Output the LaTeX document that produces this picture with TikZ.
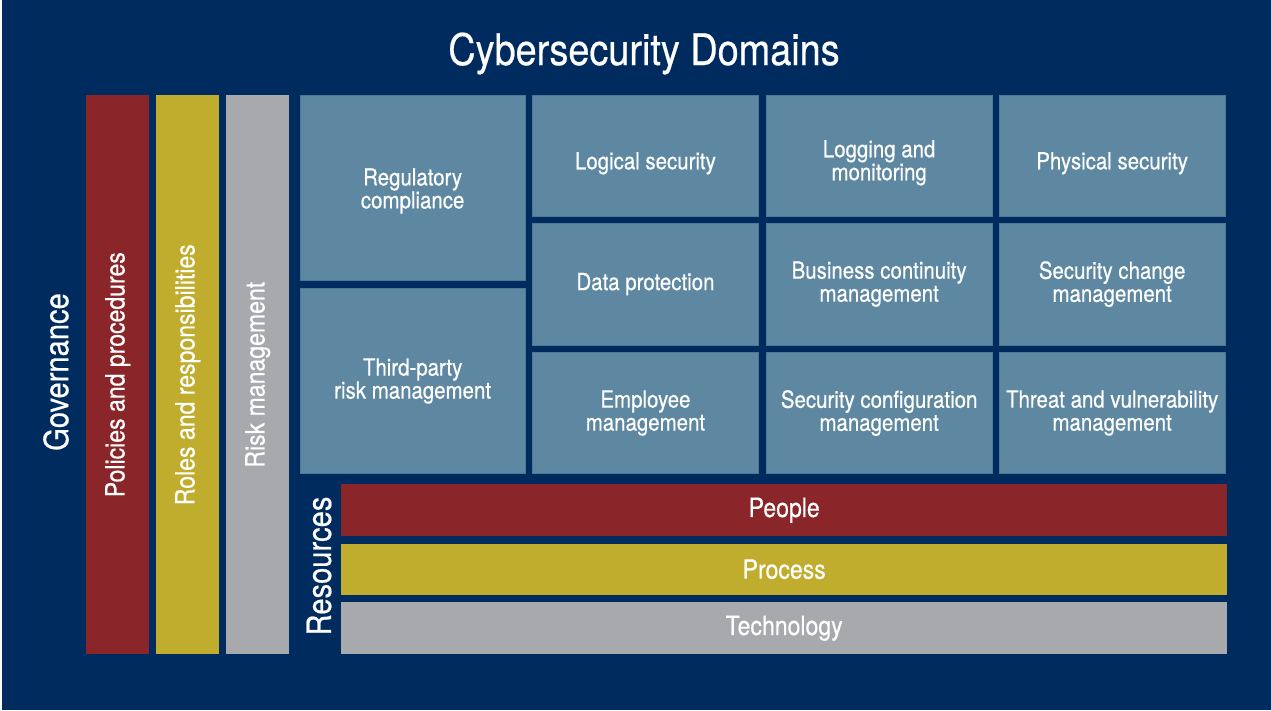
\documentclass[tikz,border=0pt]{standalone}
\usepackage{fontspec}
\setmainfont{TeX Gyre Heros}[FakeStretch=0.87,FakeBold=0.5]
\definecolor{navy}{HTML}{002B5F}
\definecolor{cred}{HTML}{8A2629}
\definecolor{cyel}{HTML}{C0AD2D}
\definecolor{cgray}{HTML}{A8A9AC}
\definecolor{cbox}{HTML}{5E88A1}
\definecolor{cboxedge}{HTML}{4F7896}
\begin{document}
\begin{tikzpicture}[x=1pt,y=-1pt,
  dbox/.style={draw=cboxedge, line width=0.8pt, fill=cbox, anchor=north west, inner sep=0pt,
    minimum width=225.5pt},
  dtext/.style={text=white, align=center, inner sep=0pt, font=\fontsize{23.5}{23}\selectfont},
  vbar/.style={fill=#1, anchor=north west, inner sep=0pt, minimum width=63pt, minimum height=559pt},
  vlabel/.style={text=white, rotate=90, font=\fontsize{26.5}{26}\selectfont},
  hbar/.style={fill=#1, anchor=north west, inner sep=0pt, minimum width=886pt, text=white,
    font=\fontsize{26.5}{26}\selectfont},
  biglabel/.style={text=white, rotate=90, font=\fontsize{33.5}{33}\selectfont}]
\useasboundingbox (0,0) rectangle (1271,710);
\fill[white] (0,0) rectangle (1271,710);
\fill[navy] (2,0) rectangle (1271,710);
\node[text=white, anchor=base, font=\fontsize{43.5}{43}\selectfont] (title) at (644,65) {Cybersecurity Domains};
% governance bars
\node[vbar=cred] (pol) at (86,95) {};
\node[vbar=cyel] (rol) at (156,95) {};
\node[vbar=cgray] (risk) at (226,95) {};
\node[vlabel] (polt) at (pol.center) {Policies and procedures};
\node[vlabel] (rolt) at (rol.center) {Roles and responsibilities};
\node[vlabel] (riskt) at (risk.center) {Risk management};
\node[biglabel] (gov) at (56,372) {Governance};
% domain boxes
\node[dbox, minimum height=185pt] (reg) at (299.5,95) {};
\node[dbox, minimum height=185.3pt] (tpr) at (299.5,288) {};
\node[dbox, minimum height=120.7pt] (logi) at (532.3,95) {};
\node[dbox, minimum height=120.7pt] (logm) at (766,95) {};
\node[dbox, minimum height=120.7pt] (phys) at (999,95) {};
\node[dbox, minimum height=122pt] (datp) at (532.3,222.7) {};
\node[dbox, minimum height=122pt] (bcm) at (766,222.7) {};
\node[dbox, minimum height=122pt] (scm) at (999,222.7) {};
\node[dbox, minimum height=121.3pt] (emp) at (532.3,352) {};
\node[dbox, minimum height=121.3pt] (scfg) at (766,352) {};
\node[dbox, minimum height=121.3pt] (tvm) at (999,352) {};
\node[dtext] (regt) at ([yshift=-3pt]reg.center) {Regulatory\\compliance};
\node[dtext] (tprt) at (tpr.center) {Third-party\\risk management};
\node[dtext] (logit) at ([yshift=-7.5pt]logi.center) {Logical security};
\node[dtext] (logmt) at ([yshift=-7pt]logm.center) {Logging and\\monitoring};
\node[dtext] (physt) at ([yshift=-7.5pt]phys.center) {Physical security};
\node[dtext] (datpt) at (datp.center) {Data protection};
\node[dtext] (bcmt) at (bcm.center) {Business continuity\\management};
\node[dtext] (scmt) at (scm.center) {Security change\\management};
\node[dtext] (empt) at (emp.center) {Employee\\management};
\node[dtext] (scfgt) at (scfg.center) {Security configuration\\management};
\node[dtext] (tvmt) at (tvm.center) {Threat and vulnerability\\management};
% resources
\node[hbar=cred, minimum height=52pt] (people) at (341,484) {People};
\node[hbar=cyel, minimum height=51.4pt] (proc) at (341,543.3) {Process};
\node[hbar=cgray, minimum height=52pt] (tech) at (341,602) {Technology};
\node[biglabel] (res) at (319,566) {Resources};
\end{tikzpicture}
\end{document}
